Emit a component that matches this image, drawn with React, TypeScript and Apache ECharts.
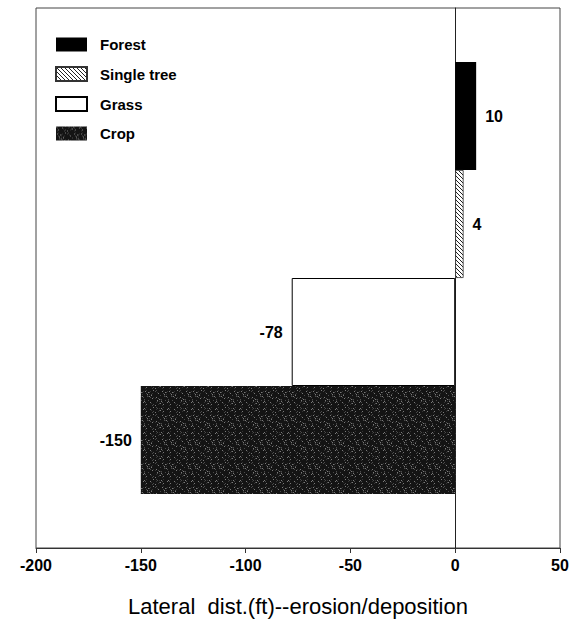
import React, { useEffect, useRef } from "react";
import * as echarts from "echarts";

const categories = ["Forest", "Single tree", "Grass", "Crop"];
const values = [10, 4, -78, -150];
const axisSlots = ["", "Crop", "Grass", "Single tree", "Forest", ""];
const xTicks = { min: -200, max: 50, interval: 50 };
const axisTitle = "Lateral  dist.(ft)--erosion/deposition";

function hatchPattern() {
  const c = document.createElement("canvas");
  c.width = 4;
  c.height = 4;
  const g = c.getContext("2d")!;
  g.fillStyle = "#ffffff";
  g.fillRect(0, 0, 4, 4);
  g.strokeStyle = "#222";
  g.lineWidth = 1;
  g.beginPath();
  g.moveTo(0, 0);
  g.lineTo(4, 4);
  g.moveTo(-1, 3);
  g.lineTo(1, 5);
  g.moveTo(3, -1);
  g.lineTo(5, 1);
  g.stroke();
  return { image: c.toDataURL(), repeat: "repeat", imageWidth: 4, imageHeight: 4 };
}

function speckle() {
  const s = 24;
  const c = document.createElement("canvas");
  c.width = s;
  c.height = s;
  const g = c.getContext("2d")!;
  g.fillStyle = "#141414";
  g.fillRect(0, 0, s, s);
  for (let y = 0; y < s; y++) {
    for (let x = 0; x < s; x++) {
      const h = (x * 37 + y * 91 + x * y * 13) % 17;
      if (h === 0 || h === 5 || h === 11) {
        g.fillStyle = h === 0 ? "#7a7a7a" : h === 5 ? "#4a4a4a" : "#333";
        g.fillRect(x, y, 1, 1);
      }
    }
  }
  return { image: c.toDataURL(), repeat: "repeat", imageWidth: s, imageHeight: s };
}

export default function App() {
  const ref = useRef<HTMLDivElement>(null);
  useEffect(() => {
    if (!ref.current) return;
    const chart = echarts.init(ref.current, undefined, { renderer: "svg" });
    const styles: any[] = [
      { color: "#000000" },
      { color: hatchPattern(), borderColor: "#333", borderWidth: 0.8 },
      { color: "#ffffff", borderColor: "#000", borderWidth: 1 },
      { color: speckle() },
    ];
    const font = "Liberation Sans, Arial, Helvetica, sans-serif";
    const series = categories.map((name, i) => ({
      name,
      type: "bar",
      stack: "all",
      barWidth: "100%",
      itemStyle: styles[i],
      label: {
        show: true,
        position: values[i] > 0 ? "right" : "left",
        distance: 9,
        color: "#000",
        fontSize: 16,
        fontWeight: "bold",
        fontFamily: font,
      },
      data: axisSlots.map((s) => (s === name ? values[i] : "-")),
    }));
    chart.setOption({
      animation: false,
      backgroundColor: "#ffffff",
      textStyle: { fontFamily: font },
      grid: {
        left: 36,
        right: 12,
        top: 8,
        bottom: 79,
        show: true,
        borderColor: "#444",
        borderWidth: 1,
        containLabel: false,
      },
      legend: {
        orient: "vertical",
        left: 50,
        top: 32,
        icon: "rect",
        itemWidth: 31,
        itemHeight: 14,
        itemGap: 14,
        data: categories,
        selectedMode: false,
        textStyle: {
          fontSize: 15,
          fontWeight: "bold",
          color: "#000",
          padding: [0, 0, 0, 8],
          fontFamily: font,
        },
      },
      xAxis: {
        type: "value",
        min: xTicks.min,
        max: xTicks.max,
        interval: xTicks.interval,
        axisLine: { show: true, lineStyle: { color: "#333", width: 1 } },
        axisTick: { show: true, length: 5, lineStyle: { color: "#333" } },
        axisLabel: {
          fontSize: 16,
          fontWeight: "bold",
          color: "#000",
          margin: 9,
          fontFamily: font,
        },
        splitLine: { show: false },
        name: axisTitle,
        nameLocation: "middle",
        nameGap: 47,
        nameTextStyle: { fontSize: 22, color: "#000", fontFamily: font },
      },
      yAxis: {
        type: "category",
        data: axisSlots,
        boundaryGap: false,
        axisLine: { show: true, onZero: true, lineStyle: { color: "#222", width: 1 } },
        axisTick: { show: false },
        axisLabel: { show: false },
        splitLine: { show: false },
      },
      series,
    });
    return () => chart.dispose();
  }, []);
  return (
    <div
      ref={ref}
      style={{ position: "fixed", left: 0, top: 0, width: 572, height: 627 }}
    />
  );
}
